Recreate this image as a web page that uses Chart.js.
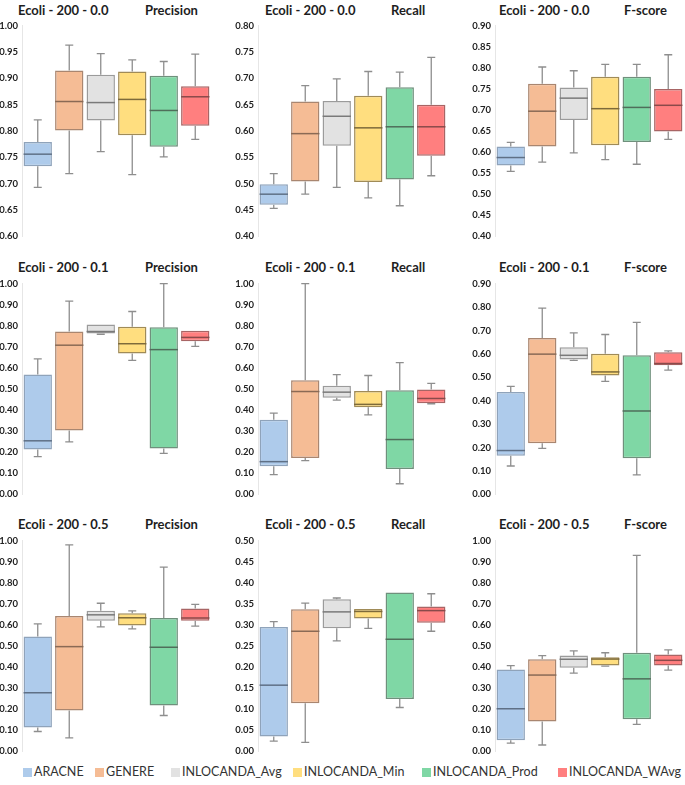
<!DOCTYPE html>
<html lang="en">
<head>
  <meta charset="UTF-8" />
  <title>Ecoli 200 - box plots</title>
  <script src="https://cdn.jsdelivr.net/npm/chart.js"></script>
  <style>
    body {
      margin: 0;
      background: #fff;
      font-family: Lato, "Open Sans", sans-serif;
    }
    #wrap {
      position: relative;
      width: 685px;
      height: 785px;
    }
    canvas { position: absolute; }
    .title {
      position: absolute;
      font-weight: bold;
      font-size: 13px;
      line-height: 16px;
      color: #1e1e1e;
      white-space: nowrap;
    }
    #legend {
      position: absolute;
      left: 0;
      top: 764px;
      width: 685px;
      font-size: 12.5px;
      color: #333;
    }
    .item {
      position: absolute;
      top: 0;
      white-space: nowrap;
      line-height: 16px;
    }
    .item span {
      display: inline-block;
      width: 9px;
      height: 9px;
      margin-right: 2px;
      vertical-align: -0.5px;
    }
  </style>
</head>
<body>
  <div id="wrap">
    <div id="legend"></div>
  </div>

  <script>
    const methods = ['ARACNE', 'GENERE', 'INLOCANDA_Avg', 'INLOCANDA_Min', 'INLOCANDA_Prod', 'INLOCANDA_WAvg'];

    // [min, q1, median, q3, max] for each method
    const prec00 = [
      [0.693, 0.733, 0.756, 0.779, 0.821],
      [0.719, 0.801, 0.856, 0.915, 0.963],
      [0.761, 0.820, 0.854, 0.907, 0.947],
      [0.717, 0.792, 0.860, 0.913, 0.935],
      [0.751, 0.770, 0.839, 0.905, 0.932],
      [0.784, 0.810, 0.865, 0.885, 0.946]
    ];
    const rec00 = [
      [0.453, 0.460, 0.480, 0.499, 0.519],
      [0.480, 0.504, 0.595, 0.656, 0.686],
      [0.493, 0.572, 0.628, 0.657, 0.699],
      [0.473, 0.503, 0.606, 0.667, 0.713],
      [0.458, 0.508, 0.608, 0.683, 0.712],
      [0.515, 0.553, 0.608, 0.650, 0.740]
    ];
    const fs00 = [
      [0.554, 0.568, 0.587, 0.613, 0.623],
      [0.576, 0.613, 0.697, 0.762, 0.802],
      [0.598, 0.676, 0.728, 0.753, 0.793],
      [0.582, 0.616, 0.703, 0.779, 0.808],
      [0.571, 0.624, 0.706, 0.779, 0.808],
      [0.630, 0.649, 0.711, 0.750, 0.831]
    ];
    const prec01 = [
      [0.179, 0.213, 0.254, 0.569, 0.643],
      [0.249, 0.303, 0.708, 0.773, 0.917],
      [0.760, 0.763, 0.773, 0.806, 0.806],
      [0.636, 0.668, 0.715, 0.795, 0.868],
      [0.194, 0.218, 0.687, 0.793, 1.000],
      [0.702, 0.727, 0.745, 0.777, 0.777]
    ];
    const rec01 = [
      [0.093, 0.133, 0.155, 0.354, 0.385],
      [0.160, 0.172, 0.488, 0.542, 1.000],
      [0.447, 0.459, 0.485, 0.515, 0.568],
      [0.377, 0.413, 0.427, 0.490, 0.564],
      [0.050, 0.120, 0.260, 0.494, 0.625],
      [0.430, 0.432, 0.455, 0.498, 0.527]
    ];
    const fs01 = [
      [0.121, 0.165, 0.187, 0.437, 0.461],
      [0.196, 0.218, 0.599, 0.668, 0.796],
      [0.572, 0.576, 0.594, 0.628, 0.690],
      [0.483, 0.508, 0.523, 0.601, 0.683],
      [0.083, 0.154, 0.356, 0.594, 0.735],
      [0.531, 0.551, 0.559, 0.607, 0.613]
    ];
    const prec05 = [
      [0.094, 0.113, 0.278, 0.545, 0.605],
      [0.064, 0.194, 0.497, 0.642, 0.980],
      [0.591, 0.620, 0.648, 0.667, 0.703],
      [0.581, 0.597, 0.634, 0.655, 0.667],
      [0.170, 0.217, 0.494, 0.633, 0.875],
      [0.594, 0.620, 0.633, 0.678, 0.698]
    ];
    const rec05 = [
      [0.024, 0.035, 0.157, 0.295, 0.308],
      [0.021, 0.114, 0.285, 0.337, 0.352],
      [0.262, 0.292, 0.331, 0.361, 0.364],
      [0.292, 0.315, 0.332, 0.338, 0.338],
      [0.104, 0.124, 0.266, 0.377, 0.377],
      [0.285, 0.305, 0.334, 0.344, 0.374]
    ];
    const fs05 = [
      [0.039, 0.052, 0.202, 0.388, 0.407],
      [0.030, 0.142, 0.362, 0.437, 0.454],
      [0.371, 0.397, 0.437, 0.455, 0.477],
      [0.404, 0.408, 0.438, 0.446, 0.468],
      [0.128, 0.152, 0.344, 0.468, 0.930],
      [0.385, 0.408, 0.432, 0.460, 0.482]
    ];

    const fills   = ['#aecbeb', '#f5bc95', '#e2e2e2', '#ffde7f', '#7fd7a5', '#ff7f7f'];
    const edges   = ['#8fa3ba', '#a98670', '#9b9b9b', '#a08b57', '#6f907c', '#a86565'];
    const medians = ['#5f7086', '#8a6a55', '#7a7a7a', '#7d6a3a', '#4f6e5a', '#8a4a4a'];

    const panels = [
      { set: 'Ecoli - 200 - 0.0', metric: 'Precision', stats: prec00, min: 0.6, max: 1.0, step: 0.05 },
      { set: 'Ecoli - 200 - 0.0', metric: 'Recall',    stats: rec00,  min: 0.4, max: 0.8, step: 0.05 },
      { set: 'Ecoli - 200 - 0.0', metric: 'F-score',   stats: fs00,   min: 0.4, max: 0.9, step: 0.05 },
      { set: 'Ecoli - 200 - 0.1', metric: 'Precision', stats: prec01, min: 0,   max: 1.0, step: 0.1 },
      { set: 'Ecoli - 200 - 0.1', metric: 'Recall',    stats: rec01,  min: 0,   max: 1.0, step: 0.1 },
      { set: 'Ecoli - 200 - 0.1', metric: 'F-score',   stats: fs01,   min: 0,   max: 0.9, step: 0.1 },
      { set: 'Ecoli - 200 - 0.5', metric: 'Precision', stats: prec05, min: 0,   max: 1.0, step: 0.1 },
      { set: 'Ecoli - 200 - 0.5', metric: 'Recall',    stats: rec05,  min: 0,   max: 0.5, step: 0.05 },
      { set: 'Ecoli - 200 - 0.5', metric: 'F-score',   stats: fs05,   min: 0,   max: 1.0, step: 0.1 }
    ];

    // layout of the grid
    const colLeft = [-1, 235, 472];
    const plotTop = [24, 282, 539];
    const plotH = 214;
    const pad = 8;
    const titleLeft = [[18, 145], [265, 391], [499, 624]];
    const titleTop = [2, 259, 516];

    // whiskers + median line on top of the floating bars
    const boxPlugin = {
      id: 'boxplot',
      afterDatasetsDraw(chart) {
        const ctx = chart.ctx;
        const y = chart.scales.y;
        const ds = chart.data.datasets[0];
        const meta = chart.getDatasetMeta(0);
        meta.data.forEach((bar, i) => {
          const [mn, q1, md, q3, mx] = ds.stats[i];
          const x = bar.x, w = bar.width, cap = 4;
          ctx.save();
          ctx.strokeStyle = '#8e8e8e';
          ctx.lineWidth = 1.3;
          ctx.beginPath();
          if (mx > q3) {
            ctx.moveTo(x, y.getPixelForValue(q3));
            ctx.lineTo(x, y.getPixelForValue(mx));
            ctx.moveTo(x - cap, y.getPixelForValue(mx));
            ctx.lineTo(x + cap, y.getPixelForValue(mx));
          }
          if (mn < q1) {
            ctx.moveTo(x, y.getPixelForValue(q1));
            ctx.lineTo(x, y.getPixelForValue(mn));
            ctx.moveTo(x - cap, y.getPixelForValue(mn));
            ctx.lineTo(x + cap, y.getPixelForValue(mn));
          }
          ctx.stroke();
          ctx.strokeStyle = medians[i];
          ctx.lineWidth = 1.5;
          ctx.beginPath();
          ctx.moveTo(x - w / 2, y.getPixelForValue(md));
          ctx.lineTo(x + w / 2, y.getPixelForValue(md));
          ctx.stroke();
          ctx.restore();
        });
      }
    };

    const wrap = document.getElementById('wrap');

    panels.forEach((p, i) => {
      const r = Math.floor(i / 3), c = i % 3;

      const t1 = document.createElement('div');
      t1.className = 'title';
      t1.textContent = p.set;
      t1.style.left = titleLeft[c][0] + 'px';
      t1.style.top = titleTop[r] + 'px';
      wrap.appendChild(t1);

      const t2 = document.createElement('div');
      t2.className = 'title';
      t2.textContent = p.metric;
      t2.style.left = titleLeft[c][1] + 'px';
      t2.style.top = titleTop[r] + 'px';
      wrap.appendChild(t2);

      const cv = document.createElement('canvas');
      cv.width = 212;
      cv.height = plotH + 2 * pad;
      cv.style.left = colLeft[c] + 'px';
      cv.style.top = (plotTop[r] - pad) + 'px';
      wrap.appendChild(cv);

      new Chart(cv, {
        type: 'bar',
        data: {
          labels: methods,
          datasets: [{
            data: p.stats.map(s => [s[1], s[3]]),
            stats: p.stats,
            backgroundColor: fills,
            borderColor: edges,
            borderWidth: 1.5,
            borderSkipped: false,
            categoryPercentage: 1,
            barPercentage: 0.9
          }]
        },
        options: {
          responsive: false,
          animation: false,
          devicePixelRatio: 1,
          layout: { padding: { top: pad, bottom: pad, left: 0, right: 0 } },
          plugins: {
            legend: { display: false },
            tooltip: { enabled: false }
          },
          scales: {
            x: { display: false },
            y: {
              min: p.min,
              max: p.max,
              afterFit: s => { s.width = 23; },
              grid: { display: false, drawTicks: false },
              border: { color: '#e6e6e6', width: 1 },
              ticks: {
                stepSize: p.step,
                padding: 4,
                color: '#222',
                font: { family: 'Lato', weight: 'bold', size: 9.5 },
                callback: v => Number(v).toFixed(2)
              }
            }
          }
        },
        plugins: [boxPlugin]
      });
    });

    // legend
    const legendX = [23, 95, 171, 293, 422, 558];
    const legend = document.getElementById('legend');
    methods.forEach((m, i) => {
      const d = document.createElement('div');
      d.className = 'item';
      d.style.left = legendX[i] + 'px';
      d.innerHTML = `<span style="background:${fills[i]}"></span>${m}`;
      legend.appendChild(d);
    });
  </script>
</body>
</html>
